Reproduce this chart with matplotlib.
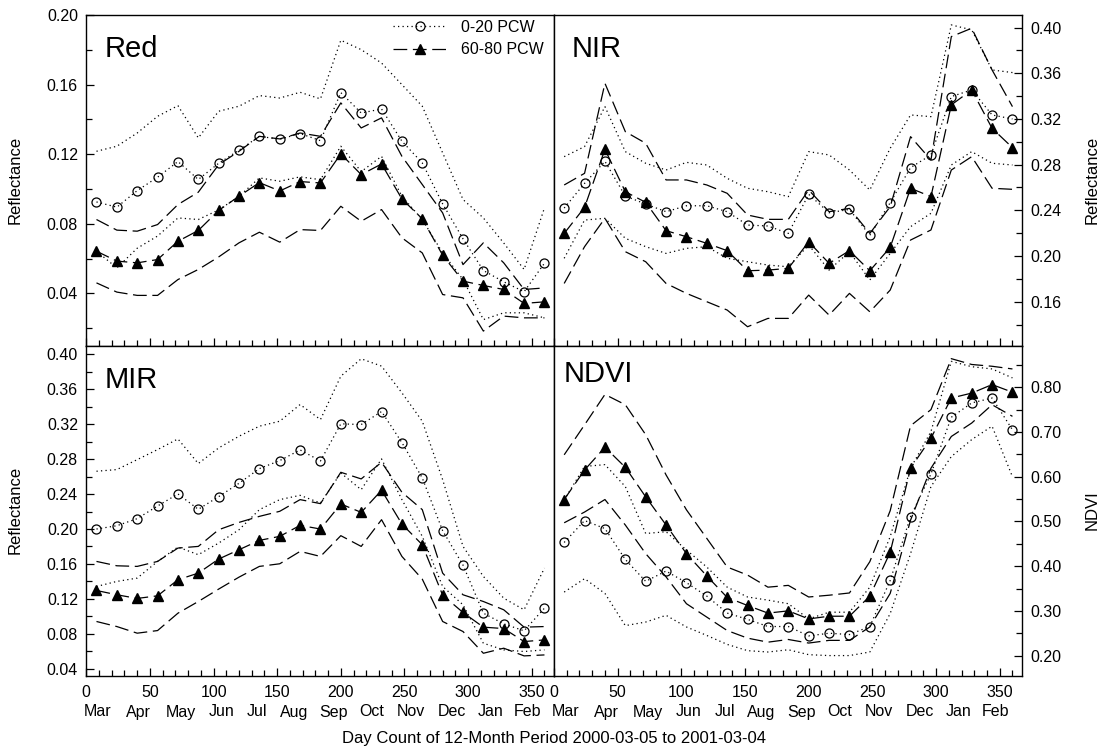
import matplotlib
matplotlib.use("Agg")
import matplotlib.pyplot as plt
from matplotlib.lines import Line2D
from matplotlib.ticker import MultipleLocator, FormatStrFormatter

plt.rcParams['font.family'] = ['Liberation Sans', 'DejaVu Sans']

# ---------------- data ----------------
days = [8, 24, 40, 56, 72, 88, 104, 120, 136, 152, 168, 184, 200, 216, 232,
        248, 264, 280, 296, 312, 328, 344, 360]

# Red
red_a_mean = [0.0926, 0.0896, 0.0991, 0.1068, 0.1158, 0.1055, 0.1148, 0.1223, 0.1303, 0.1286, 0.1319, 0.1278,
              0.1554, 0.1437, 0.1460, 0.1275, 0.1150, 0.0915, 0.0714, 0.0532, 0.0467, 0.0410, 0.0574]
red_a_hi = [0.1217, 0.1246, 0.1322, 0.1418, 0.1479, 0.1294, 0.1447, 0.1476, 0.1537, 0.1523, 0.1556, 0.1518,
            0.1855, 0.1801, 0.1724, 0.1600, 0.1476, 0.1208, 0.0940, 0.0834, 0.0690, 0.0538, 0.0892]
red_a_lo = [0.0643, 0.0547, 0.0660, 0.0730, 0.0834, 0.0825, 0.0880, 0.0958, 0.1064, 0.1045, 0.1070, 0.1054,
            0.1246, 0.1100, 0.1188, 0.0958, 0.0825, 0.0633, 0.0480, 0.0250, 0.0289, 0.0289, 0.0260]
red_b_mean = [0.0643, 0.0586, 0.0576, 0.0595, 0.0700, 0.0762, 0.0877, 0.0959, 0.1037, 0.0989, 0.1043, 0.1035,
              0.1202, 0.1083, 0.1144, 0.0943, 0.0829, 0.0620, 0.0471, 0.0446, 0.0423, 0.0343, 0.0352]
red_b_hi = [0.0825, 0.0764, 0.0758, 0.0796, 0.0911, 0.0982, 0.1140, 0.1217, 0.1303, 0.1288, 0.1322, 0.1303,
            0.1495, 0.1351, 0.1409, 0.1188, 0.1026, 0.0863, 0.0566, 0.0691, 0.0576, 0.0423, 0.0432]
red_b_lo = [0.0461, 0.0408, 0.0389, 0.0389, 0.0480, 0.0538, 0.0610, 0.0691, 0.0752, 0.0695, 0.0767, 0.0762,
            0.0901, 0.0815, 0.0882, 0.0720, 0.0633, 0.0394, 0.0375, 0.0184, 0.0270, 0.0260, 0.0260]

# NIR
nir_a_mean = [0.2420, 0.2636, 0.2829, 0.2525, 0.2455, 0.2388, 0.2440, 0.2440, 0.2388, 0.2271, 0.2263, 0.2198,
              0.2540, 0.2379, 0.2408, 0.2181, 0.2467, 0.2774, 0.2885, 0.3396, 0.3454, 0.3235, 0.3200]
nir_a_hi = [0.2870, 0.2958, 0.3308, 0.2914, 0.2812, 0.2753, 0.2820, 0.2797, 0.2680, 0.2593, 0.2563, 0.2520,
            0.2914, 0.2885, 0.2753, 0.2578, 0.2943, 0.3235, 0.3220, 0.4023, 0.3980, 0.3629, 0.3606]
nir_a_lo = [0.1980, 0.2315, 0.2330, 0.2155, 0.2082, 0.2023, 0.2067, 0.2082, 0.1980, 0.1950, 0.1921, 0.1906,
            0.2096, 0.1877, 0.2038, 0.1790, 0.2023, 0.2257, 0.2374, 0.2797, 0.2914, 0.2812, 0.2797]
nir_b_mean = [0.2198, 0.2426, 0.2934, 0.2563, 0.2470, 0.2222, 0.2169, 0.2111, 0.2047, 0.1871, 0.1877, 0.1892,
              0.2125, 0.1936, 0.2047, 0.1871, 0.2076, 0.2593, 0.2520, 0.3323, 0.3454, 0.3118, 0.2949]
nir_b_hi = [0.2622, 0.2724, 0.3512, 0.3089, 0.2987, 0.2666, 0.2666, 0.2622, 0.2549, 0.2359, 0.2321, 0.2321,
            0.2578, 0.2388, 0.2417, 0.2198, 0.2432, 0.3045, 0.2841, 0.3921, 0.3994, 0.3629, 0.3308]
nir_b_lo = [0.1760, 0.2082, 0.2330, 0.2038, 0.1950, 0.1760, 0.1673, 0.1600, 0.1527, 0.1381, 0.1454, 0.1454,
            0.1658, 0.1483, 0.1673, 0.1512, 0.1702, 0.2140, 0.2228, 0.2753, 0.2870, 0.2593, 0.2584]

# MIR
mir_a_mean = [0.2000, 0.2038, 0.2119, 0.2264, 0.2402, 0.2226, 0.2371, 0.2524, 0.2692, 0.2784, 0.2906, 0.2780,
              0.3205, 0.3197, 0.3346, 0.2990, 0.2585, 0.1981, 0.1587, 0.1036, 0.0914, 0.0834, 0.1094]
mir_a_hi = [0.2662, 0.2681, 0.2795, 0.2910, 0.3032, 0.2750, 0.2929, 0.3063, 0.3178, 0.3235, 0.3426, 0.3254,
            0.3751, 0.3950, 0.3866, 0.3560, 0.3235, 0.2566, 0.1801, 0.1457, 0.1208, 0.1075, 0.1553]
mir_a_lo = [0.1342, 0.1400, 0.1438, 0.1629, 0.1794, 0.1706, 0.1839, 0.1992, 0.2222, 0.2337, 0.2386, 0.2298,
            0.2642, 0.2451, 0.2803, 0.2337, 0.1916, 0.1342, 0.1132, 0.0692, 0.0616, 0.0597, 0.0616]
mir_b_mean = [0.1296, 0.1247, 0.1205, 0.1235, 0.1419, 0.1495, 0.1656, 0.1763, 0.1870, 0.1916, 0.2042, 0.2000,
              0.2287, 0.2191, 0.2444, 0.2057, 0.1820, 0.1243, 0.1044, 0.0876, 0.0860, 0.0711, 0.0730]
mir_b_hi = [0.1629, 0.1579, 0.1572, 0.1629, 0.1782, 0.1801, 0.1992, 0.2076, 0.2145, 0.2203, 0.2337, 0.2291,
            0.2650, 0.2574, 0.2765, 0.2421, 0.2222, 0.1495, 0.1247, 0.1170, 0.1075, 0.0876, 0.0883]
mir_b_lo = [0.0941, 0.0883, 0.0807, 0.0837, 0.1036, 0.1170, 0.1312, 0.1449, 0.1572, 0.1602, 0.1744, 0.1686,
            0.1924, 0.1801, 0.2107, 0.1686, 0.1426, 0.0941, 0.0826, 0.0577, 0.0635, 0.0547, 0.0558]

# NDVI
ndvi_a_mean = [0.453, 0.502, 0.484, 0.415, 0.366, 0.389, 0.363, 0.333, 0.295, 0.281, 0.265, 0.265,
               0.244, 0.250, 0.247, 0.265, 0.368, 0.511, 0.606, 0.733, 0.765, 0.776, 0.705]
ndvi_a_hi = [0.548, 0.623, 0.627, 0.578, 0.473, 0.477, 0.436, 0.398, 0.353, 0.331, 0.324, 0.316,
             0.282, 0.297, 0.297, 0.353, 0.466, 0.619, 0.701, 0.858, 0.846, 0.841, 0.821]
ndvi_a_lo = [0.342, 0.372, 0.339, 0.267, 0.275, 0.290, 0.264, 0.245, 0.225, 0.211, 0.208, 0.213,
             0.202, 0.200, 0.200, 0.208, 0.294, 0.428, 0.578, 0.645, 0.683, 0.713, 0.600]
ndvi_b_mean = [0.549, 0.615, 0.666, 0.621, 0.555, 0.492, 0.428, 0.378, 0.330, 0.312, 0.295, 0.300,
               0.282, 0.288, 0.288, 0.333, 0.431, 0.619, 0.686, 0.776, 0.787, 0.806, 0.789]
ndvi_b_hi = [0.649, 0.716, 0.784, 0.761, 0.694, 0.604, 0.526, 0.462, 0.398, 0.380, 0.353, 0.357,
             0.331, 0.335, 0.340, 0.410, 0.524, 0.714, 0.750, 0.864, 0.851, 0.847, 0.841]
ndvi_b_lo = [0.497, 0.521, 0.549, 0.492, 0.428, 0.376, 0.316, 0.286, 0.256, 0.239, 0.230, 0.236,
             0.228, 0.234, 0.234, 0.264, 0.339, 0.503, 0.619, 0.690, 0.720, 0.761, 0.735]

x_ticks = [0, 50, 100, 150, 200, 250, 300, 350]
month_labels = ['Mar', 'Apr', 'May', 'Jun', 'Jul', 'Aug', 'Sep', 'Oct', 'Nov', 'Dec', 'Jan', 'Feb']
month_pos = [9, 41, 74, 106, 134, 163, 194, 224, 255, 287, 318, 347]
legend_labels = ['0-20 PCW', '60-80 PCW']

# ---------------- styles ----------------
DOT = (0, (1.0, 2.6))
DASH = (0, (11, 4.5))
LW = 0.9
W, H = 1104, 752
fig = plt.figure(figsize=(W / 100, H / 100), dpi=100)

xl, xm, xr = 86.3, 554, 1022
yt, ym, yb = 15, 345.7, 675.7

def frac_box(x0, x1, ytop, ybot):
    return [x0 / W, 1 - ybot / H, (x1 - x0) / W, (ybot - ytop) / H]

ax_red = fig.add_axes(frac_box(xl, xm, yt, ym))
ax_nir = fig.add_axes(frac_box(xm, xr, yt, ym))
ax_mir = fig.add_axes(frac_box(xl, xm, ym, yb))
ax_ndvi = fig.add_axes(frac_box(xm, xr, ym, yb))

panels = [
    (ax_red, red_a_mean, red_a_hi, red_a_lo, red_b_mean, red_b_hi, red_b_lo, (0.01, 0.20), 0.04, 0.02, 'left'),
    (ax_nir, nir_a_mean, nir_a_hi, nir_a_lo, nir_b_mean, nir_b_hi, nir_b_lo, (0.1215, 0.411), 0.04, 0.02, 'right'),
    (ax_mir, mir_a_mean, mir_a_hi, mir_a_lo, mir_b_mean, mir_b_hi, mir_b_lo, (0.032, 0.41), 0.04, 0.02, 'left'),
    (ax_ndvi, ndvi_a_mean, ndvi_a_hi, ndvi_a_lo, ndvi_b_mean, ndvi_b_hi, ndvi_b_lo, (0.155, 0.893), 0.1, 0.05, 'right'),
]

for i, (ax, am, ah, alo, bm, bh, blo, ylim, maj, mnr, side) in enumerate(panels):
    ax.plot(days, ah, color='black', lw=LW, linestyle=DOT)
    ax.plot(days, alo, color='black', lw=LW, linestyle=DOT)
    ax.plot(days, bh, color='black', lw=LW, linestyle=DASH)
    ax.plot(days, blo, color='black', lw=LW, linestyle=DASH)
    ax.plot(days, am, color='black', lw=LW, linestyle=DOT, marker='o', ms=6.5,
            mfc='none', mec='black', mew=0.9)
    ax.plot(days, bm, color='black', lw=LW, linestyle=DASH, marker='^', ms=6.5,
            mfc='black', mec='black')
    ax.set_xlim(0, 367.5)
    ax.set_ylim(*ylim)
    ax.xaxis.set_major_locator(MultipleLocator(50))
    ax.xaxis.set_minor_locator(MultipleLocator(10))
    ax.yaxis.set_major_locator(MultipleLocator(maj))
    ax.yaxis.set_minor_locator(MultipleLocator(mnr))
    ax.yaxis.set_major_formatter(FormatStrFormatter('%.2f'))
    for sp in ax.spines.values():
        sp.set_linewidth(1.0)
    ax.tick_params(axis='both', which='both', direction='in', labelsize=11.5,
                   top=False, width=0.9)
    ax.tick_params(axis='both', which='major', length=6)
    ax.tick_params(axis='both', which='minor', length=4)
    ax.tick_params(axis='y', which='both', left=(side == 'left'), right=(side == 'right'),
                   labelleft=(side == 'left'), labelright=(side == 'right'), pad=6)
    ax.tick_params(axis='x', pad=7)
    if i < 2:
        ax.tick_params(axis='x', labelbottom=False)
    else:
        ax.set_xticks(x_ticks)
        ax.set_xticklabels([str(v) for v in x_ticks])
        for m, p in zip(month_labels, month_pos):
            ax.text(p, -0.11, m, transform=ax.get_xaxis_transform(), ha='center',
                    va='center', fontsize=11.5)

# panel names
ax_red.text(0.0385, 0.873, 'Red', transform=ax_red.transAxes, fontsize=21, va='baseline')
ax_nir.text(0.038, 0.874, 'NIR', transform=ax_nir.transAxes, fontsize=21, va='baseline')
ax_mir.text(0.0385, 0.871, 'MIR', transform=ax_mir.transAxes, fontsize=21, va='baseline')
ax_ndvi.text(0.02, 0.89, 'NDVI', transform=ax_ndvi.transAxes, fontsize=21, va='baseline')

# legend
handles = [
    Line2D([], [], color='black', lw=LW, linestyle=DOT, marker='o', ms=6.5, mfc='none', mec='black', mew=0.9),
    Line2D([], [], color='black', lw=LW, linestyle=DASH, marker='^', ms=6.5, mfc='black', mec='black'),
]
ax_red.legend(handles, legend_labels, loc='upper left', bbox_to_anchor=(0.655, 0.985),
              frameon=False, fontsize=11.5, handlelength=3.4, handletextpad=0.9,
              labelspacing=0.45, borderpad=0, borderaxespad=0)

# axis labels
fs_lab = 12
fig.text(15 / W, 1 - 180 / H, 'Reflectance', rotation=90, ha='center', va='center', fontsize=fs_lab)
fig.text(15 / W, 1 - 510 / H, 'Reflectance', rotation=90, ha='center', va='center', fontsize=fs_lab)
fig.text(1092 / W, 1 - 180 / H, 'Reflectance', rotation=90, ha='center', va='center', fontsize=fs_lab)
fig.text(1092 / W, 1 - 510 / H, 'NDVI', rotation=90, ha='center', va='center', fontsize=fs_lab)
fig.text(554 / W, 1 - 738 / H, 'Day Count of 12-Month Period 2000-03-05 to 2001-03-04',
         ha='center', va='center', fontsize=fs_lab)

fig.savefig('out.png', dpi=100)
